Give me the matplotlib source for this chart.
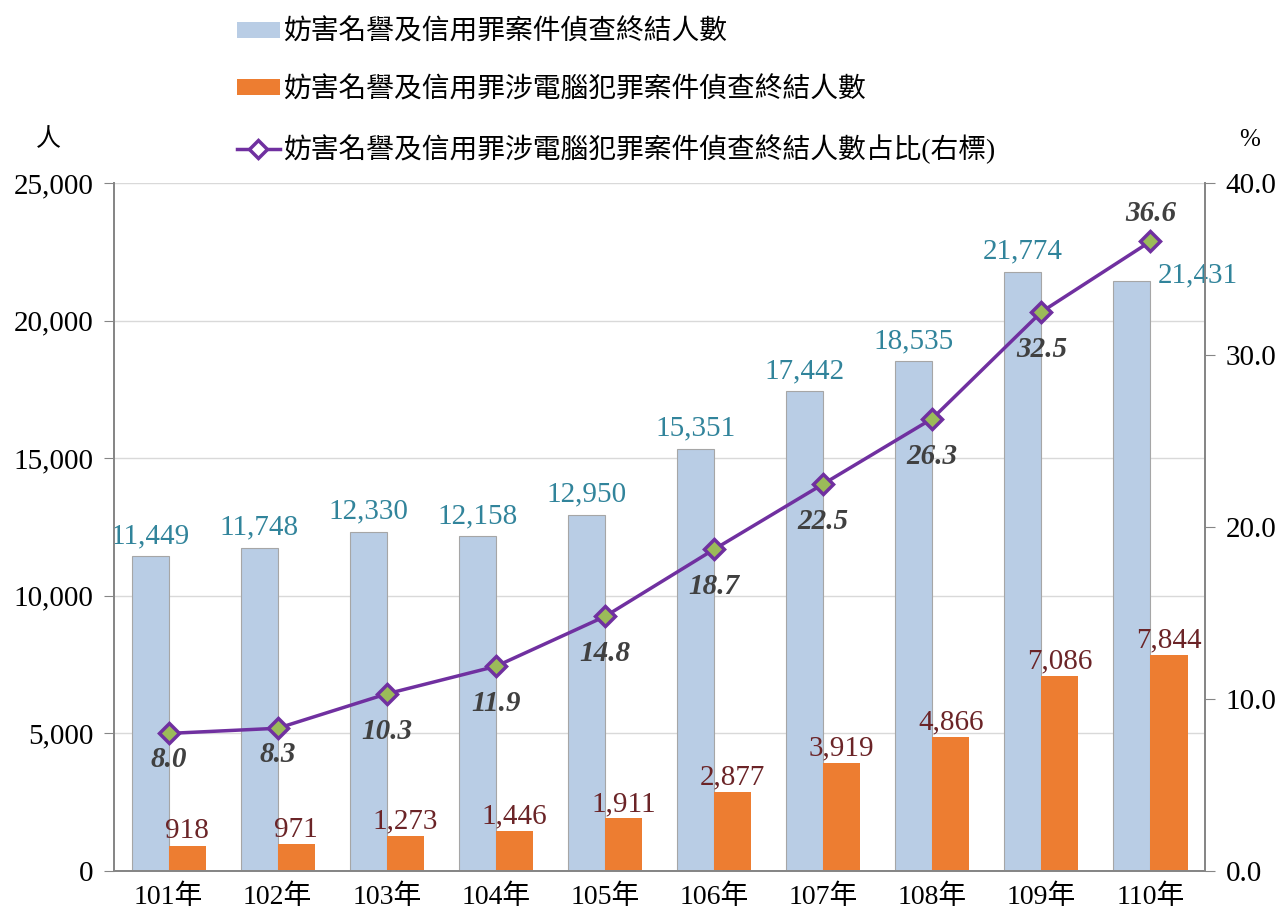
import numpy as np
import matplotlib
matplotlib.use("Agg")
import matplotlib.pyplot as plt
from matplotlib.lines import Line2D
from matplotlib.patches import Patch

plt.rcParams['font.family'] = ['Liberation Serif', 'Noto Sans CJK TC']

years = ['101年', '102年', '103年', '104年', '105年', '106年', '107年', '108年', '109年', '110年']
total = [11449, 11748, 12330, 12158, 12950, 15351, 17442, 18535, 21774, 21431]
computer = [918, 971, 1273, 1446, 1911, 2877, 3919, 4866, 7086, 7844]
share = [8.0, 8.3, 10.3, 11.9, 14.8, 18.7, 22.5, 26.3, 32.5, 36.6]

name_total = '妨害名譽及信用罪案件偵查終結人數'
name_comp = '妨害名譽及信用罪涉電腦犯罪案件偵查終結人數'
name_share = '妨害名譽及信用罪涉電腦犯罪案件偵查終結人數占比(右標)'

c_blue = '#B9CDE5'
c_orange = '#ED7D31'
c_line = '#7030A0'
c_mark = '#9BBB59'
c_spine = '#868686'

fig = plt.figure(figsize=(12.8, 9.19), dpi=100)
ax = fig.add_axes([0.0891, 0.0522, 0.8523, 0.7487])
ax2 = ax.twinx()

x = np.arange(len(years))
w = 0.34
ax.bar(x - w / 2, total, w, color=c_blue, edgecolor='#A6A6A6', linewidth=0.8, zorder=2)
ax.bar(x + w / 2, computer, w, color=c_orange, zorder=2)

ax.set_xlim(-0.5, len(years) - 0.5)
ax.set_ylim(0, 25000)
ax.set_yticks(np.arange(0, 25001, 5000))
ax.set_yticklabels(['{:,}'.format(v) for v in range(0, 25001, 5000)])
ax.set_xticks(x)
ax.set_xticklabels(years)
ax.grid(axis='y', color='#D9D9D9', linewidth=1, zorder=0)
ax.set_axisbelow(True)

ax2.set_ylim(0, 40)
ax2.set_yticks(np.arange(0, 40.1, 10))
ax2.set_yticklabels(['{:.1f}'.format(v) for v in np.arange(0, 40.1, 10)])

for a in (ax, ax2):
    a.spines['top'].set_visible(False)
    for s in ('left', 'right', 'bottom'):
        a.spines[s].set_color(c_spine)
        a.spines[s].set_linewidth(1.3)
    a.tick_params(axis='y', labelsize=21, length=7, color=c_spine, pad=8)
ax.tick_params(axis='x', labelsize=20, length=0, pad=10)

ax2.plot(x, share, color=c_line, linewidth=2.5, marker='D', markersize=10,
         markerfacecolor=c_mark, markeredgecolor=c_line, markeredgewidth=2.5, zorder=5)

# data labels
for i in range(len(years)):
    if i == len(years) - 1:
        ax.annotate('{:,}'.format(total[i]), (x[i], total[i]), xytext=(5, 4),
                    textcoords='offset points', ha='left', va='center',
                    fontsize=21, color='#31849B')
    else:
        ax.annotate('{:,}'.format(total[i]), (x[i] - w / 2, total[i]), xytext=(0, 5),
                    textcoords='offset points', ha='center', va='bottom',
                    fontsize=21, color='#31849B')
    ax.annotate('{:,}'.format(computer[i]), (x[i] + w / 2, computer[i]), xytext=(0, 1),
                textcoords='offset points', ha='center', va='bottom',
                fontsize=21, color='#6B2427')
    if i == len(years) - 1:
        off = 20
    elif share[i] < 10:
        off = -19
    else:
        off = -27
    ax2.annotate('{:.1f}'.format(share[i]), (x[i], share[i]), xytext=(0, off),
                 textcoords='offset points', ha='center', va='center',
                 fontsize=21, color='#404040', fontweight='bold', fontstyle='italic', zorder=6)

fig.text(48 / 1280, 1 - 140 / 919, '人', fontsize=18, ha='center', va='center')
fig.text(1250 / 1280, 1 - 140 / 919, '%', fontsize=18, ha='center', va='center')

handles = [Patch(facecolor=c_blue),
           Patch(facecolor=c_orange),
           Line2D([0], [0], color=c_line, linewidth=2.5, marker='D', markersize=9,
                  markerfacecolor='white', markeredgecolor=c_line, markeredgewidth=2.5)]
fig.legend(handles, [name_total, name_comp, name_share], loc='upper left',
           bbox_to_anchor=(0.185, 0.979), frameon=False, fontsize=20,
           borderpad=0, borderaxespad=0, labelspacing=1.12, handlelength=1.55,
           handleheight=0.5, handletextpad=0.12)

fig.savefig('out.png', dpi=100)
